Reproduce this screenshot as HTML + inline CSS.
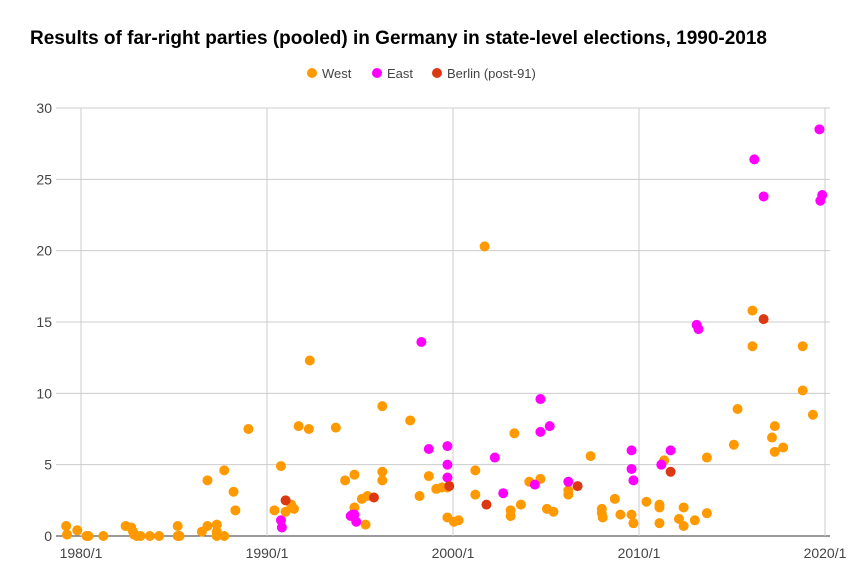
<!DOCTYPE html>
<html><head><meta charset="utf-8"><style>
body{margin:0;background:#fff;font-family:"Liberation Sans",Arial,sans-serif}
svg text{font-family:"Liberation Sans",Arial,sans-serif}
</style></head><body>
<svg id="c" width="853" height="574">
<text x="30" y="44" font-size="19" font-weight="bold" fill="#000">Results of far-right parties (pooled) in Germany in state-level elections, 1990-2018</text>
<g>
<g><circle cx="312" cy="73" r="5" fill="#ff9900"/><text x="322" y="78" font-size="13" fill="#444">West</text></g>
<g><circle cx="377" cy="73" r="5" fill="#ff00ff"/><text x="387" y="78" font-size="13" fill="#444">East</text></g>
<g><circle cx="437" cy="73" r="5" fill="#dc3912"/><text x="447" y="78" font-size="13" fill="#444">Berlin (post-91)</text></g>
</g>
<g id="grid"></g><g id="marks"></g>
</svg>
<script>
const yTicks=[0,5,10,15,20,25,30];
const xTicks=[1980,1990,2000,2010,2020];
const xTickLabels=["1980/1","1990/1","2000/1","2010/1","2020/1"];
const westX=[1979.2,1979.25,1979.8,1980.3,1980.4,1981.2,1982.4,1982.7,1982.8,1982.85,1983.0,1983.2,1983.7,1984.2,1985.2,1985.2,1985.3,1986.5,1986.8,1987.3,1987.3,1987.3,1987.7,1986.8,1987.7,1988.2,1988.3,1989.0,1990.4,1990.75,1991.0,1991.3,1991.45,1991.7,1992.25,1992.3,1993.7,1994.2,1994.7,1994.7,1995.1,1995.3,1995.4,1996.2,1996.2,1996.2,1997.7,1998.2,1998.7,1999.1,1999.4,1999.7,1999.7,2000.05,2000.3,2001.2,2001.2,2001.7,2003.1,2003.1,2003.3,2003.65,2004.1,2004.7,2005.05,2005.4,2006.2,2006.2,2007.4,2008.0,2008.0,2008.05,2008.7,2009.0,2009.6,2009.7,2010.4,2011.1,2011.1,2011.1,2011.35,2012.15,2012.4,2012.4,2013.0,2013.65,2013.65,2015.1,2015.3,2016.1,2016.1,2017.15,2017.3,2017.3,2017.75,2018.8,2018.8,2019.35];
const westY=[0.7,0.1,0.4,0,0,0,0.7,0.6,0.3,0.1,0,0,0,0,0.7,0,0,0.3,0.7,0.8,0.3,0,0,3.9,4.6,3.1,1.8,7.5,1.8,4.9,1.7,2.2,1.9,7.7,7.5,12.3,7.6,3.9,4.3,2.0,2.6,0.8,2.8,9.1,3.9,4.5,8.1,2.8,4.2,3.3,3.4,3.4,1.3,1.0,1.1,4.6,2.9,20.3,1.4,1.8,7.2,2.2,3.8,4.0,1.9,1.7,2.9,3.2,5.6,1.9,1.6,1.3,2.6,1.5,1.5,0.9,2.4,2.0,2.2,0.9,5.3,1.2,0.7,2.0,1.1,1.6,5.5,6.4,8.9,15.8,13.3,6.9,7.7,5.9,6.2,13.3,10.2,8.5];
const eastX=[1990.75,1990.8,1994.5,1994.6,1994.8,1994.7,1998.3,1998.7,1999.7,1999.7,1999.7,2002.25,2002.7,2004.4,2004.7,2004.7,2005.2,2006.2,2009.6,2009.6,2009.7,2011.2,2011.7,2013.1,2013.2,2016.2,2016.7,2019.7,2019.75,2019.85];
const eastY=[1.1,0.6,1.4,1.5,1.0,1.5,13.6,6.1,6.3,5.0,4.1,5.5,3.0,3.6,9.6,7.3,7.7,3.8,6.0,4.7,3.9,5.0,6.0,14.8,14.5,26.4,23.8,28.5,23.5,23.9];
const berlinX=[1991.0,1995.75,1999.8,2001.8,2006.7,2011.7,2016.7];
const berlinY=[2.5,2.7,3.5,2.2,3.5,4.5,15.2];
const NS="http://www.w3.org/2000/svg";
const L=56,R=830,T=108,B=536;
function xs(v){return 81+(v-1980)*18.6;}
function ys(v){return B-(v/30)*(B-T);}
const grid=document.getElementById('grid'),marks=document.getElementById('marks');
function mk(tag,attrs,parent){const e=document.createElementNS(NS,tag);for(const k in attrs)e.setAttribute(k,attrs[k]);parent.appendChild(e);return e;}
yTicks.forEach(v=>{
  const ln=mk('line',{x1:L,x2:R,y1:ys(v),y2:ys(v),stroke:v===0?'#333':'#ccc','stroke-width':1},grid);
  
  
  const t=mk('text',{x:52,y:ys(v)+5,'text-anchor':'end','font-size':14,fill:'#444'},grid);
  t.textContent=v;
  
  
});
xTicks.forEach((v,i)=>{
  const ln=mk('line',{x1:xs(v),x2:xs(v),y1:T,y2:B,stroke:'#ccc','stroke-width':1},grid);
  
  
  const t=mk('text',{x:xs(v),y:558,'text-anchor':'middle','font-size':14,fill:'#444'},grid);
  t.textContent=xTickLabels[i];
  
  
});
function series(X,Y,col,name){
  X.forEach((x,i)=>{
    const c=mk('circle',{cx:xs(x),cy:ys(Y[i]),r:5,fill:col},marks);
    
    
  });
}
series(westX,westY,'#ff9900','point-west');
series(eastX,eastY,'#ff00ff','point-east');
series(berlinX,berlinY,'#dc3912','point-berlin');
</script>
</body></html>
